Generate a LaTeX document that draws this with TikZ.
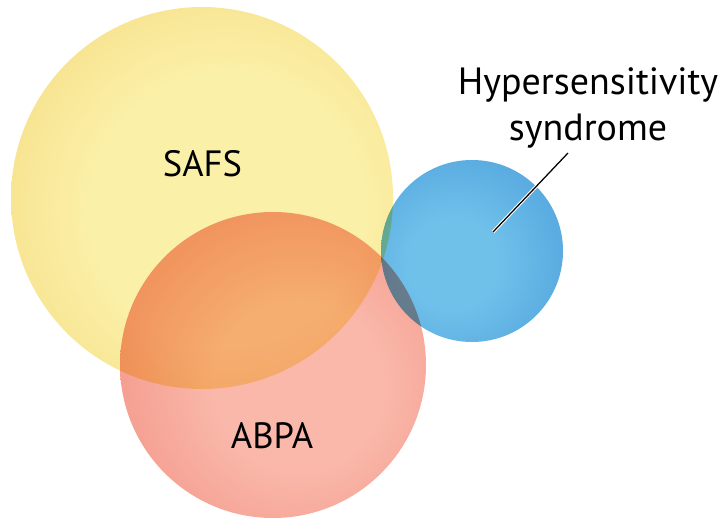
\documentclass[tikz,border=0pt]{standalone}
\usepackage{fontspec}
\setmainfont{PT Sans}
\usetikzlibrary{positioning}
\definecolor{SafsEdge}{HTML}{F0CD66}
\definecolor{SafsMid}{HTML}{FBF0A8}
\definecolor{AbpaEdge}{HTML}{EF7A6B}
\definecolor{AbpaMid}{HTML}{F9B8AA}
\definecolor{HypEdge}{HTML}{3F92D6}
\definecolor{HypMid}{HTML}{70C1EA}
\pgfdeclareradialshading{safsshade}{\pgfpoint{4bp}{-2bp}}{color(0bp)=(SafsMid); color(18bp)=(SafsMid); color(50bp)=(SafsEdge); color(100bp)=(SafsEdge)}
\pgfdeclareradialshading{abpashade}{\pgfpoint{5bp}{-4bp}}{color(0bp)=(AbpaMid); color(14bp)=(AbpaMid); color(50bp)=(AbpaEdge); color(100bp)=(AbpaEdge)}
\pgfdeclareradialshading{hypshade}{\pgfpoint{-6bp}{-4bp}}{color(0bp)=(HypMid); color(12bp)=(HypMid); color(50bp)=(HypEdge); color(100bp)=(HypEdge)}

\begin{document}
\begin{tikzpicture}[
    setcircle/.style={circle, inner sep=0pt},
    setlabel/.style={font=\fontsize{26}{30}\selectfont, text=black},
    calloutlabel/.style={font=\fontsize{27}{33}\selectfont, text=black, align=center}
]
    \useasboundingbox (0,0) rectangle (18.075,-13);
    \begin{scope}[blend group=multiply]
        \node[setcircle, minimum size=9.55cm, shading=safsshade] (safs) at (5.05,-4.95) {};
        \node[setcircle, minimum size=7.65cm, shading=abpashade] (abpa) at (6.825,-9.125) {};
        \node[setcircle, minimum size=4.55cm, shading=hypshade] (hyp) at (11.8,-6.275) {};
    \end{scope}
    \node[setlabel] (safslabel) at (5.06,-4.1) {SAFS};
    \node[setlabel] (abpalabel) at (6.8,-10.9) {ABPA};
    \node[calloutlabel] (hyplabel) at (14.7,-2.7) {Hypersensitivity\\syndrome};
    \coordinate (hyptip) at (12.325,-5.8);
    \coordinate (hypstart) at (14.2,-3.825);
    \draw[white, line width=2.4pt] (hypstart) -- (hyptip);
    \draw[black, line width=0.9pt] (hypstart) -- (hyptip);
\end{tikzpicture}
\end{document}
